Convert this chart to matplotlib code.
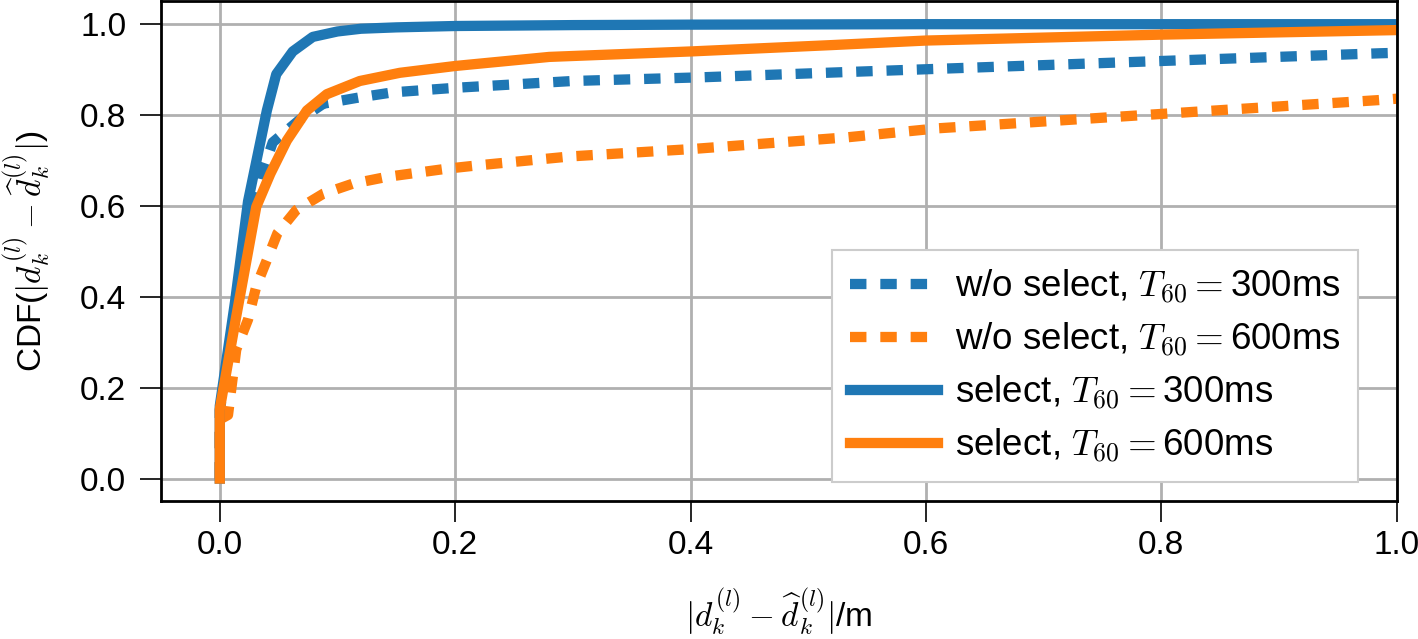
import matplotlib
matplotlib.use("Agg")
import matplotlib.pyplot as plt

plt.rcParams['font.family'] = ['Liberation Sans', 'DejaVu Sans']
plt.rcParams['mathtext.fontset'] = 'cm'
plt.rcParams['font.size'] = 24

# CDF curves (error in m, cumulative fraction)
x_wo_300 = [0, 0, 0.013, 0.025, 0.037, 0.045, 0.068, 0.088, 0.119, 0.147, 0.2, 0.3, 0.408, 0.536, 0.8, 0.986, 1.0]
y_wo_300 = [0, 0.15, 0.36, 0.55, 0.68, 0.74, 0.79, 0.825, 0.839, 0.85, 0.86, 0.875, 0.883, 0.895, 0.919, 0.936, 0.937]

x_wo_600 = [0, 0, 0.007, 0.014, 0.024, 0.031, 0.04, 0.049, 0.065, 0.088, 0.113, 0.142, 0.193, 0.218, 0.298,
            0.4, 0.533, 0.611, 0.797, 0.985, 1.0]
y_wo_600 = [0, 0.13, 0.14, 0.284, 0.35, 0.423, 0.481, 0.54, 0.591, 0.627, 0.649, 0.664, 0.682, 0.689, 0.709,
            0.725, 0.751, 0.771, 0.802, 0.833, 0.836]

x_sel_300 = [0, 0, 0.013, 0.024, 0.04, 0.048, 0.062, 0.079, 0.10, 0.12, 0.15, 0.2, 0.3, 0.4, 0.6, 1.0]
y_sel_300 = [0, 0.16, 0.39, 0.61, 0.81, 0.89, 0.94, 0.972, 0.984, 0.99, 0.993, 0.996, 0.998, 0.999, 1.0, 1.0]

x_sel_600 = [0, 0, 0.014, 0.031, 0.043, 0.057, 0.074, 0.091, 0.119, 0.153, 0.2, 0.28, 0.4, 0.52, 0.6, 0.8, 1.0]
y_sel_600 = [0, 0.153, 0.357, 0.598, 0.671, 0.744, 0.81, 0.846, 0.875, 0.893, 0.908, 0.928, 0.94, 0.954, 0.964,
             0.977, 0.987]

labels = [r'w/o select, $T_{60}{=}$300ms', r'w/o select, $T_{60}{=}$600ms',
          r'select, $T_{60}{=}$300ms', r'select, $T_{60}{=}$600ms']

fig = plt.figure(figsize=(14.18, 6.39), dpi=100)
ax = fig.add_axes([0.1135, 0.2155, 0.8714, 0.7822])

lw = 7.4
dots = (0, (1.6, 1.35))
ax.plot(x_wo_300, y_wo_300, color='#1f77b4', lw=lw, linestyle=dots, label=labels[0])
ax.plot(x_wo_600, y_wo_600, color='#ff7f0e', lw=lw, linestyle=dots, label=labels[1])
ax.plot(x_sel_300, y_sel_300, color='#1f77b4', lw=lw, label=labels[2])
ax.plot(x_sel_600, y_sel_600, color='#ff7f0e', lw=lw, label=labels[3])

ax.set_xlim(-0.05, 1.0)
ax.set_ylim(-0.05, 1.05)
ax.set_xticks([0.0, 0.2, 0.4, 0.6, 0.8, 1.0])
ax.set_yticks([0.0, 0.2, 0.4, 0.6, 0.8, 1.0])
ax.grid(True, color='#b0b0b0', lw=2)
ax.set_axisbelow(True)
for s in ax.spines.values():
    s.set_linewidth(2)
ax.tick_params(length=15, width=1.2, labelsize=24)
ax.tick_params(axis='x', pad=6)
ax.tick_params(axis='y', pad=10)

ax.set_xlabel(r'$|d_k^{(l)} - \widehat{d}_k^{(l)}|$/m', fontsize=24)
ax.set_ylabel(r'CDF($|d_k^{(l)} - \widehat{d}_k^{(l)}|$)', fontsize=24)
ax.xaxis.set_label_coords(0.5, -0.17)
ax.yaxis.set_label_coords(-0.088, 0.5)

leg = ax.legend(loc='lower right', bbox_to_anchor=(0.969, 0.038), borderaxespad=0,
                fancybox=False, framealpha=1, edgecolor='#cccccc', handlelength=2.39,
                handletextpad=0.46, borderpad=0.48, fontsize=26.5, labelspacing=0.4)
leg.get_frame().set_linewidth(1.5)

fig.savefig('out.png', dpi=100)
